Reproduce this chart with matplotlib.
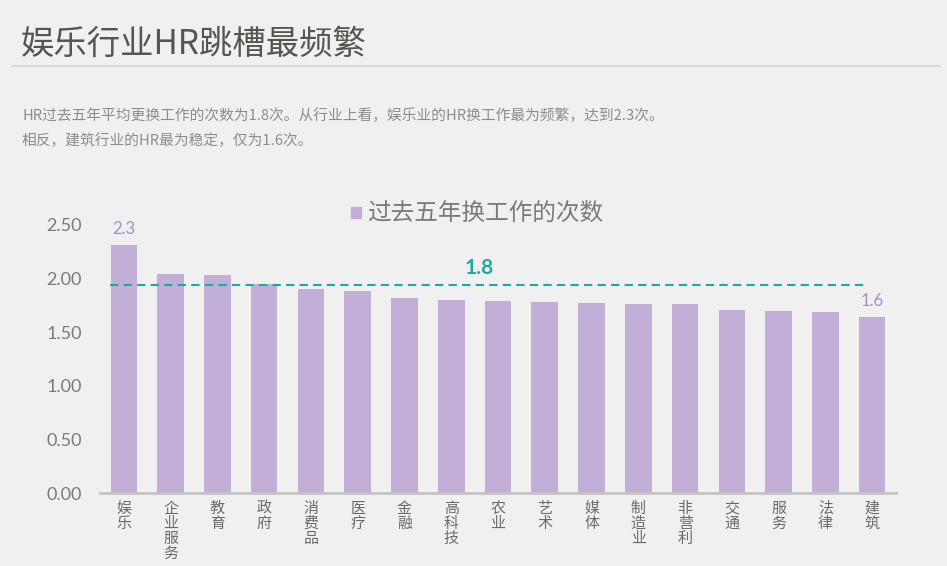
import matplotlib
matplotlib.use("Agg")
import matplotlib.pyplot as plt

plt.rcParams['font.family'] = ['Noto Sans CJK SC', 'DejaVu Sans']

#####################################################################################################################
# data

industries = ['娱乐', '企业服务', '教育', '政府', '消费品', '医疗', '金融', '高科技', '农业',
              '艺术', '媒体', '制造业', '非营利', '交通', '服务', '法律', '建筑']
job_changes = [2.31, 2.04, 2.03, 1.95, 1.90, 1.885, 1.82, 1.80, 1.79,
               1.775, 1.767, 1.764, 1.758, 1.705, 1.696, 1.686, 1.64]
y_ticks = [0.0, 0.5, 1.0, 1.5, 2.0, 2.5]
avg_level = 1.94
avg_label = '1.8'
avg_span = (-0.3, 15.85)
series_name = '过去五年换工作的次数'
title = '娱乐行业HR跳槽最频繁'
subtitle = ['HR过去五年平均更换工作的次数为1.8次。从行业上看，娱乐业的HR换工作最为频繁，达到2.3次。',
            '相反，建筑行业的HR最为稳定，仅为1.6次。']

#####################################################################################################################

bg = '#f0f0f0'
bar_color = '#c2afd8'
teal = '#1eaaa2'
num_font = ['Lato', 'DejaVu Sans']

fig = plt.figure(figsize=(9.47, 5.66), dpi=100, facecolor=bg)
ax = fig.add_axes([100 / 947, 1 - 493.3 / 566, 796 / 947, 268.8 / 566])
ax.set_facecolor(bg)

x = range(len(industries))
ax.bar(x, job_changes, width=0.57, color=bar_color, zorder=2)

ax.set_xlim(-0.51, 16.51)
ax.set_ylim(0, 2.5)
ax.set_yticks(y_ticks)
ax.set_yticklabels([f'{v:.2f}' for v in y_ticks], fontsize=13, color='#7a7a7a', family=num_font)
ax.set_xticks(list(x))
ax.set_xticklabels(['\n'.join(s) for s in industries], fontsize=10.8, color='#6a6a6a',
                   va='top', linespacing=1.1)
ax.tick_params(axis='both', length=0)
ax.tick_params(axis='y', pad=13)
ax.tick_params(axis='x', pad=6)
for side in ('top', 'right', 'left'):
    ax.spines[side].set_visible(False)
ax.spines['bottom'].set_color('#c4c4c4')
ax.spines['bottom'].set_linewidth(2)
ax.spines['bottom'].set_zorder(3)

# average line
ax.plot(avg_span, [avg_level, avg_level], color=teal, lw=1.5, ls=(0, (4, 2.5)), zorder=3)
ax.text(7.6, avg_level + 0.06, avg_label, color=teal, fontsize=15, fontweight='bold',
        ha='center', va='bottom', family=num_font)

# value labels on first and last bar
for i in (0, len(job_changes) - 1):
    ax.text(i, job_changes[i] + 0.07, f'{job_changes[i]:.1f}', color='#a98cca', fontsize=12,
            ha='center', va='bottom', family=num_font)

# legend
fig.patches.append(plt.Rectangle((351 / 947, 1 - 218 / 566), 10 / 947, 11 / 566,
                                 transform=fig.transFigure, color=bar_color))
fig.text(367 / 947, 1 - 213 / 566, series_name, fontsize=17, color='#7a7a7a', va='center')

# header
fig.text(21 / 947, 1 - 44 / 566, title, fontsize=24, color='#58544f', va='center')
fig.add_artist(plt.Line2D([12 / 947, 940 / 947], [1 - 66 / 566, 1 - 66 / 566],
                          color='#d4d4d4', lw=1.2))
fig.text(22 / 947, 1 - 116 / 566, subtitle[0], fontsize=10.6, color='#8c8c8c', va='center')
fig.text(22 / 947, 1 - 141 / 566, subtitle[1], fontsize=10.6, color='#8c8c8c', va='center')

plt.savefig('out.png', dpi=100, facecolor=bg)
